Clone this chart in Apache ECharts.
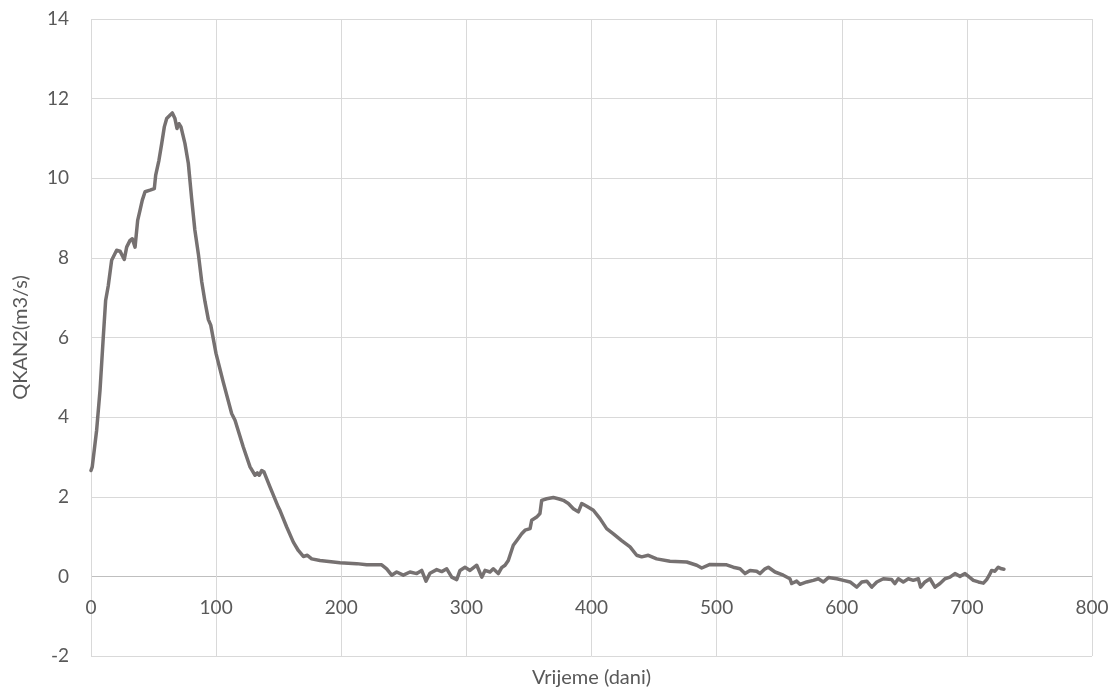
<!DOCTYPE html>
<html>
<head>
<meta charset="utf-8">
<script src="https://cdn.jsdelivr.net/npm/echarts@6/dist/echarts.min.js"></script>
<style>
html,body{margin:0;padding:0;background:#fff;}
#chart{width:1116px;height:694px;}
</style>
</head>
<body>
<div id="chart"></div>
<script>
const days = [0,1,4.5,7.2,9.8,11.7,13.8,16.5,20.5,23.2,26.6,28.5,31.2,33,35.2,37.3,39.2,41,43.2,47.2,50.6,51.7,54.3,56.5,58.6,60.5,63.1,65,67.1,68.7,70.3,71.9,75.1,77.8,80.4,83,85.8,88.5,91.1,93.8,95.7,99.9,105.7,112.4,115.1,121.7,127.1,131.1,132.9,134.5,136.4,138.3,143.1,149.7,151,156.4,161.7,165.7,169.7,172.9,176.4,183,188.3,199,212.3,220.3,232.3,236.3,240.3,244.3,249.6,254.9,260.3,264.3,267.7,270.9,276.3,280.3,284.3,288.3,292.3,294.9,298.9,302.9,308.3,312.3,314.9,318.9,321.5,325.5,328.2,330.9,333.5,337.5,341.5,344.2,346.9,350.9,352.2,356.2,358.8,360.2,364.2,369.5,373.5,377.5,381.5,385.5,389.5,392.2,396.2,401.5,406.8,412.1,417.5,424.1,430.8,436.1,440.1,445.4,452.1,462.7,476.1,484.1,488.1,494.7,508,513.3,518.7,522.7,526.7,532,534.7,538.7,541.3,546.7,553.3,558.6,560,564,566.6,572,577.3,581.3,585.3,589.3,596,601.3,606.6,612,616,620,624,628,633.2,639.9,642.5,645.2,649.2,653.2,657.2,661.2,663,666.5,670.5,674.5,678.5,682.5,686.5,690.5,694.5,698.5,702.5,705.2,709.2,713.2,715.8,717.9,719.8,722.4,725.1,727.8,729.6];
const flow = [2.66,2.75,3.67,4.67,6.0,6.93,7.3,7.94,8.19,8.17,7.96,8.27,8.44,8.48,8.27,8.94,9.2,9.45,9.66,9.70,9.74,10.08,10.45,10.87,11.29,11.5,11.58,11.64,11.5,11.25,11.37,11.29,10.87,10.37,9.5,8.7,8.1,7.4,6.9,6.45,6.31,5.6,4.88,4.09,3.92,3.25,2.75,2.54,2.6,2.54,2.66,2.62,2.24,1.74,1.66,1.24,0.86,0.65,0.50,0.53,0.44,0.40,0.38,0.34,0.32,0.29,0.29,0.19,0.03,0.11,0.03,0.11,0.07,0.15,-0.12,0.08,0.17,0.12,0.19,-0.02,-0.08,0.15,0.23,0.15,0.28,-0.02,0.15,0.11,0.19,0.07,0.22,0.28,0.40,0.78,0.95,1.07,1.16,1.2,1.41,1.49,1.58,1.91,1.95,1.98,1.95,1.91,1.83,1.70,1.62,1.83,1.76,1.66,1.45,1.2,1.07,0.90,0.74,0.53,0.49,0.53,0.44,0.38,0.36,0.28,0.21,0.30,0.29,0.23,0.19,0.07,0.15,0.13,0.07,0.19,0.23,0.11,0.03,-0.06,-0.18,-0.12,-0.2,-0.14,-0.1,-0.06,-0.14,-0.03,-0.06,-0.1,-0.14,-0.27,-0.14,-0.12,-0.27,-0.14,-0.06,-0.08,-0.18,-0.06,-0.14,-0.06,-0.1,-0.06,-0.27,-0.14,-0.06,-0.27,-0.18,-0.06,-0.02,0.07,0.0,0.07,-0.03,-0.1,-0.14,-0.17,-0.08,0.03,0.15,0.13,0.23,0.19,0.18];
const xTitle = 'Vrijeme (dani)';
const yTitle = 'QKAN2(m3/s)';

const points = days.map((d, i) => [d, flow[i]]);
const font = 'Lato, "Open Sans", sans-serif';
const chart = echarts.init(document.getElementById('chart'), null, {renderer: 'canvas'});
chart.setOption({
  animation: false,
  backgroundColor: '#ffffff',
  grid: {left: 91, right: 24, top: 19, bottom: 38, containLabel: false, outerBoundsMode: 'none'},
  xAxis: {
    type: 'value', min: 0, max: 800, interval: 100,
    axisLine: {show: false, onZero: false},
    axisTick: {show: false},
    axisLabel: {color: '#595959', fontSize: 19, fontFamily: font, margin: -58},
    splitLine: {show: true, lineStyle: {color: '#d9d9d9', width: 1}},
    name: xTitle, nameLocation: 'middle', nameGap: 12,
    nameTextStyle: {color: '#595959', fontSize: 20, fontFamily: font}
  },
  yAxis: {
    type: 'value', min: -2, max: 14, interval: 2,
    axisLine: {show: false},
    axisTick: {show: false},
    axisLabel: {color: '#595959', fontSize: 19, fontFamily: font, margin: 22},
    splitLine: {show: true, lineStyle: {color: ['#d9d9d9','#bfbfbf','#d9d9d9','#d9d9d9','#d9d9d9','#d9d9d9','#d9d9d9','#d9d9d9','#d9d9d9'], width: 1}},
    name: yTitle, nameLocation: 'middle', nameGap: 60,
    nameTextStyle: {color: '#595959', fontSize: 20, fontFamily: font}
  },
  series: [{
    type: 'line', data: points, showSymbol: false, symbol: 'none',
    lineStyle: {color: '#767171', width: 3.5, join: 'round', cap: 'round'},
    smooth: false
  }]
});
</script>
</body>
</html>
